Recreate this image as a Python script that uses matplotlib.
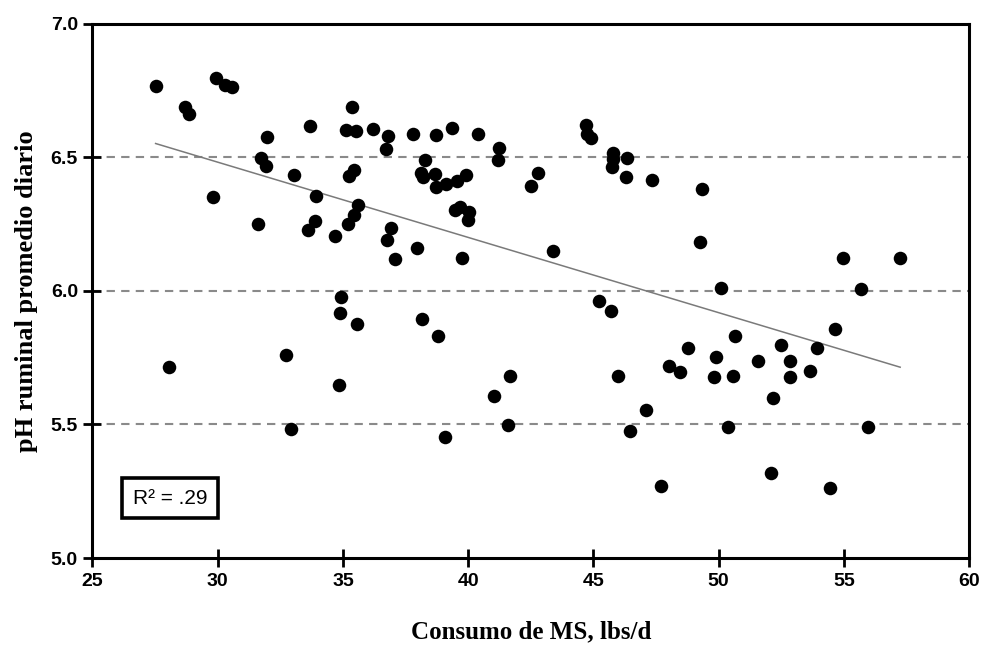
import numpy as np
import matplotlib.pyplot as plt

# consumo de materia seca (lbs/d) y pH ruminal promedio diario
dmi = [27.52, 28.70, 28.86, 29.94, 30.28, 30.57, 31.98, 31.74, 31.91, 29.80,
       33.68, 35.36, 35.11, 35.54, 36.22, 33.03, 33.92, 35.26, 35.45, 35.60,
       35.43, 35.21, 33.87, 33.60, 31.61, 34.68, 36.78, 36.73, 37.81, 38.70,
       39.34, 40.39, 41.23, 41.18, 44.69, 44.73, 44.91, 38.29, 38.10, 38.18,
       38.66, 38.71, 39.11, 39.56, 39.90, 42.52, 42.77, 36.90, 36.74, 37.06,
       37.94, 39.48, 39.67, 40.04, 39.98, 39.76, 43.40, 34.93, 34.89, 35.55,
       38.16, 38.80, 32.71, 28.07, 34.85, 32.94, 45.23, 45.71, 45.77, 45.77,
       45.75, 46.33, 46.29, 47.36, 49.34, 49.25, 54.98, 57.25, 50.10, 55.67,
       45.98, 47.11, 46.45, 47.71, 41.68, 41.02, 41.60, 39.06, 48.03, 48.47,
       48.78, 49.90, 49.82, 50.56, 50.66, 51.57, 52.48, 52.87, 52.86, 53.66,
       53.93, 54.63, 52.18, 50.37, 55.96, 52.10, 54.45]
ph = [6.768, 6.688, 6.663, 6.795, 6.769, 6.761, 6.575, 6.495, 6.466, 6.352,
      6.617, 6.687, 6.601, 6.597, 6.605, 6.432, 6.353, 6.428, 6.452, 6.320,
      6.285, 6.248, 6.262, 6.228, 6.248, 6.206, 6.578, 6.532, 6.585, 6.583,
      6.608, 6.586, 6.536, 6.491, 6.620, 6.585, 6.570, 6.489, 6.442, 6.424,
      6.436, 6.388, 6.398, 6.410, 6.433, 6.393, 6.439, 6.235, 6.189, 6.117,
      6.160, 6.302, 6.315, 6.295, 6.263, 6.124, 6.148, 5.975, 5.917, 5.876,
      5.894, 5.830, 5.760, 5.714, 5.646, 5.484, 5.962, 5.923, 6.514, 6.494,
      6.463, 6.498, 6.426, 6.414, 6.380, 6.184, 6.121, 6.122, 6.010, 6.006,
      5.682, 5.553, 5.476, 5.269, 5.682, 5.605, 5.498, 5.451, 5.719, 5.697,
      5.784, 5.751, 5.677, 5.682, 5.831, 5.737, 5.796, 5.737, 5.678, 5.699,
      5.785, 5.857, 5.597, 5.489, 5.489, 5.317, 5.263]

# recta de regresion (extremos)
trend_x = [27.52, 57.25]
trend_y = [6.551, 5.714]

x_ticks = [25, 30, 35, 40, 45, 50, 55, 60]
y_ticks = [5.0, 5.5, 6.0, 6.5, 7.0]
grid_levels = [5.5, 6.0, 6.5]
r2_text = "R\u00b2 = .29"

fig = plt.figure(figsize=(9.85, 6.46), dpi=100)
ax = fig.add_axes([0.0939, 0.1362, 0.8899, 0.8274])

for g in grid_levels:
    ax.axhline(g, color="#8a8a8a", lw=1.5, ls=(0, (4, 3)), zorder=1)

ax.plot(trend_x, trend_y, color="#7a7a7a", lw=1.1, zorder=2)
ax.scatter(dmi, ph, s=95, color="black", zorder=3, linewidths=0)

ax.set_xlim(25, 60)
ax.set_ylim(5.0, 7.0)
ax.set_xticks(x_ticks)
ax.set_yticks(y_ticks)
ax.set_yticklabels(["%.1f" % v for v in y_ticks])

for s in ax.spines.values():
    s.set_linewidth(2.2)
ax.tick_params(direction="inout", length=13, width=2.0, pad=4)
for lab in ax.get_xticklabels() + ax.get_yticklabels():
    lab.set_fontfamily("Liberation Sans")
    lab.set_fontweight("bold")
    lab.set_fontsize(14)

ax.set_xlabel("Consumo de MS, lbs/d", family="Liberation Serif",
              fontweight="bold", fontsize=18, labelpad=22)
ax.set_ylabel("pH ruminal promedio diario", family="Liberation Serif",
              fontweight="bold", fontsize=19, labelpad=9)

ax.text(0.0885, 0.112, r2_text, transform=ax.transAxes, ha="center",
        va="center", family="Liberation Sans", fontsize=15,
        bbox=dict(boxstyle="square,pad=0.5", fc="white", ec="black", lw=2.6))

fig.savefig("out.png", dpi=100)
